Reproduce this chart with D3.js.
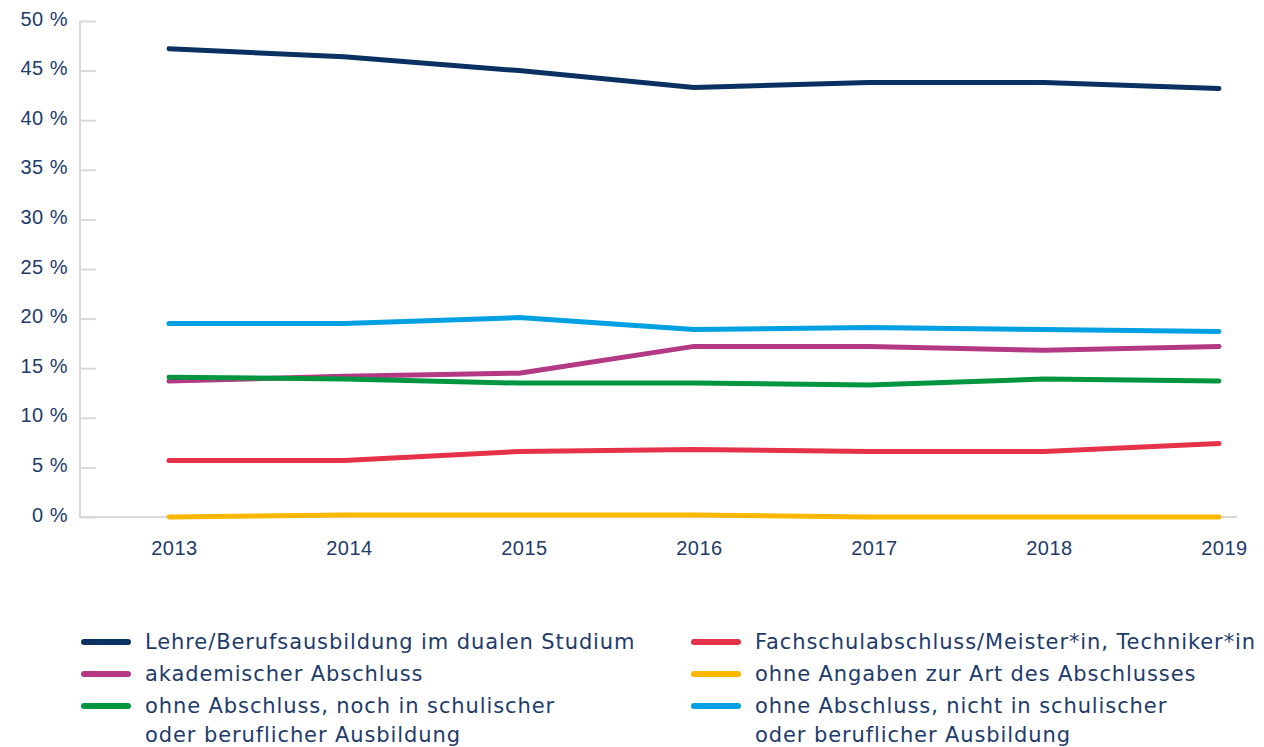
<!DOCTYPE html>
<html>
<head>
<meta charset="utf-8">
<script src="https://cdn.jsdelivr.net/npm/d3@7"></script>
<style>
  body { margin: 0; background: #fff; }
  svg { display: block; font-family: 'DejaVu Sans', sans-serif; }
</style>
</head>
<body>
<div id="chart"></div>
<script>
const years = [2013, 2014, 2015, 2016, 2017, 2018, 2019]
const yTicks = [0, 5, 10, 15, 20, 25, 30, 35, 40, 45, 50]

const dual = [47.2, 46.4, 45.0, 43.3, 43.8, 43.8, 43.2]
const fachschule = [5.7, 5.7, 6.6, 6.8, 6.6, 6.6, 7.4]
const akademisch = [13.7, 14.2, 14.5, 17.2, 17.2, 16.8, 17.2]
const ohneAngaben = [0, 0.2, 0.2, 0.2, 0, 0, 0]
const nochInAusbildung = [14.1, 13.9, 13.5, 13.5, 13.3, 13.9, 13.7]
const nichtInAusbildung = [19.5, 19.5, 20.1, 18.9, 19.1, 18.9, 18.7]

const series = [
  { name: ['Lehre/Berufsausbildung im dualen Studium'], values: dual, color: '#0b3162' },
  { name: ['Fachschulabschluss/Meister*in, Techniker*in'], values: fachschule, color: '#e63248' },
  { name: ['akademischer Abschluss'], values: akademisch, color: '#b43985' },
  { name: ['ohne Angaben zur Art des Abschlusses'], values: ohneAngaben, color: '#fbb800' },
  { name: ['ohne Abschluss, noch in schulischer', 'oder beruflicher Ausbildung'], values: nochInAusbildung, color: '#009640' },
  { name: ['ohne Abschluss, nicht in schulischer', 'oder beruflicher Ausbildung'], values: nichtInAusbildung, color: '#00a0e2' }
]

// draw order: lower series first so the navy/blue sit on top like the original
const drawOrder = [3, 1, 2, 4, 5, 0]

const width = 1264
const height = 747
const textColor = '#1d3b6b'
const axisColor = '#d9d9d9'

const svg = d3.select('#chart')
  .append('svg')
  .attr('width', width)
  .attr('height', height)

const x = d3.scalePoint()
  .domain(years)
  .range([169, 1219])

const y = d3.scaleLinear()
  .domain([0, 50])
  .range([517, 21])

// y axis
const yAxis = svg.append('g')
  .attr('transform', 'translate(80,0)')
  .call(d3.axisLeft(y).tickValues(yTicks).tickSize(-16).tickPadding(12).tickFormat(d => d + ' %'))
yAxis.select('.domain').remove()
yAxis.selectAll('line').attr('stroke', axisColor).attr('stroke-width', 2)
yAxis.selectAll('text')
  .attr('fill', textColor)
  .style('font-size', '20px')
  .style('letter-spacing', '0.5px')
  .attr('dy', '0.2em')

svg.append('line')
  .attr('x1', 80).attr('x2', 80)
  .attr('y1', y(50)).attr('y2', y(0) + 1)
  .attr('stroke', axisColor)
  .attr('stroke-width', 2)

// x axis
const xAxis = svg.append('g')
  .attr('transform', `translate(0,${y(0)})`)
  .call(d3.axisBottom(x).tickSize(0).tickPadding(24))
xAxis.select('.domain').remove()
xAxis.selectAll('text')
  .attr('fill', textColor)
  .attr('dx', 5)
  .style('font-size', '20px')
  .style('letter-spacing', '0.5px')

svg.append('line')
  .attr('x1', 79).attr('x2', 1237)
  .attr('y1', y(0)).attr('y2', y(0))
  .attr('stroke', axisColor)
  .attr('stroke-width', 2)

// lines
const line = d3.line()
  .x((d, i) => x(years[i]))
  .y(d => y(d))

svg.append('g')
  .selectAll('path')
  .data(drawOrder.map(i => series[i]))
  .join('path')
  .attr('fill', 'none')
  .attr('stroke', d => d.color)
  .attr('stroke-width', 5)
  .attr('stroke-linecap', 'round')
  .attr('stroke-linejoin', 'round')
  .attr('d', d => line(d.values))

// legend
const legendCols = [84, 694]
const legendRows = [642, 674, 706]

const legend = svg.append('g')
  .selectAll('g')
  .data(series)
  .join('g')
  .attr('transform', (d, i) => `translate(${legendCols[i % 2]},${legendRows[Math.floor(i / 2)]})`)

legend.append('line')
  .attr('x1', 0).attr('x2', 44)
  .attr('y1', 0).attr('y2', 0)
  .attr('stroke', d => d.color)
  .attr('stroke-width', 6)
  .attr('stroke-linecap', 'round')

legend.append('text')
  .attr('fill', textColor)
  .style('font-size', '21px')
  .style('letter-spacing', '0.9px')
  .selectAll('tspan')
  .data(d => d.name)
  .join('tspan')
  .attr('x', 61)
  .attr('y', (d, i) => i * 29)
  .attr('dy', '0.35em')
  .text(d => d)
</script>
</body>
</html>
